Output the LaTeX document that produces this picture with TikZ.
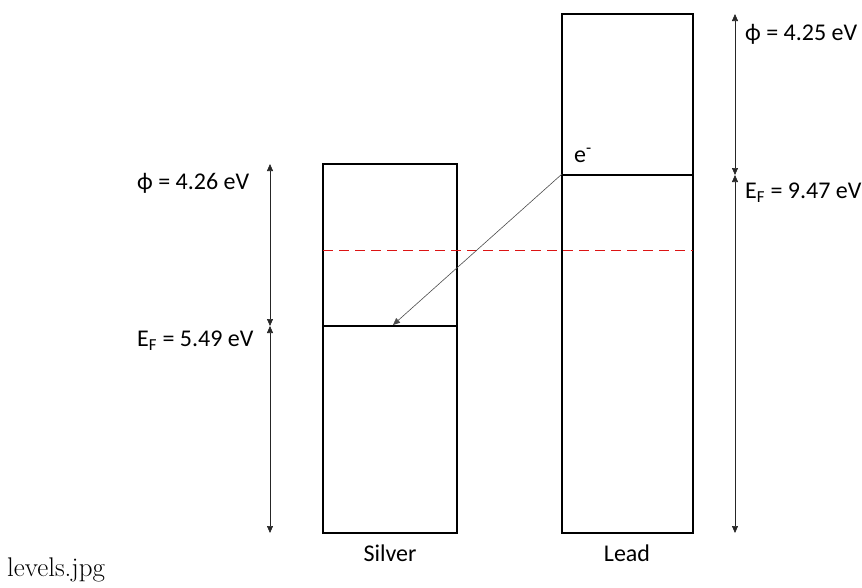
\documentclass[tikz,border=0pt]{standalone}
\usepackage{fontspec}
\setmainfont{Carlito}
\newfontfamily\lmfont{Latin Modern Roman}
\usetikzlibrary{arrows.meta}
\begin{document}
\begin{tikzpicture}[x=1pt,y=-1pt,
  band/.style={draw=black,line width=1.8pt},
  level/.style={draw=black,line width=1.6pt},
  dim/.style={draw=black!85,line width=0.7pt,{Triangle[length=7pt,width=6pt]}-{Triangle[length=7pt,width=6pt]}},
  elec/.style={draw=black!70,line width=0.6pt,-{Triangle[length=7pt,width=6pt]}},
  lbl/.style={font=\fontsize{24}{28}\selectfont,inner sep=0pt},
  fermi/.style={draw={rgb,255:red,220;green,20;blue,20},line width=1.8pt,dash pattern=on 10pt off 6pt}]
\useasboundingbox (0,0) rectangle (862,587);
% boxes
\draw[band] (323,164) rectangle (457,533);
\draw[band] (562,14) rectangle (693,533);
% Fermi levels
\coordinate (agL) at (323,326);
\coordinate (agR) at (457,326);
\coordinate (pbL) at (562,175);
\coordinate (pbR) at (693,175);
\draw[level] (agL) -- (agR);
\draw[level] (pbL) -- (pbR);
% dashed line
\coordinate (dL) at (323,250.5);
\coordinate (dR) at (693,250.5);
\draw[fermi] (dL) -- (dR);
% electron transfer
\coordinate (eStart) at (562,174);
\coordinate (eEnd) at (393,325);
\draw[elec] (eStart) -- (eEnd);
\node[lbl,anchor=west] (elab) at (574,155) {e\textsuperscript{-}};
% dimension arrows left
\coordinate (lt) at (270,164);
\coordinate (lm) at (270,326);
\coordinate (lb) at (270,533);
\draw[dim] (lt) -- (lm);
\draw[dim] (lm) -- (lb);
% dimension arrows right
\coordinate (rt) at (735,14);
\coordinate (rm) at (735,175);
\coordinate (rb) at (735,533);
\draw[dim] (rt) -- (rm);
\draw[dim] (rm) -- (rb);
% labels
\node[lbl,anchor=west] (phiAg) at (137,183) {ϕ = 4.26 eV};
\node[lbl,anchor=west] (efAg) at (137,341) {E\textsubscript{F} = 5.49 eV};
\node[lbl,anchor=west] (phiPb) at (745,34) {ϕ = 4.25 eV};
\node[lbl,anchor=west] (efPb) at (745,193) {E\textsubscript{F} = 9.47 eV};
\node[lbl] (ag) at (390,553) {Silver};
\node[lbl] (pb) at (627,553) {Lead};
\node[inner sep=0pt,anchor=west,font=\lmfont\fontsize{27}{30}\selectfont] (cap) at (7,570) {levels.jpg};
\end{tikzpicture}
\end{document}
